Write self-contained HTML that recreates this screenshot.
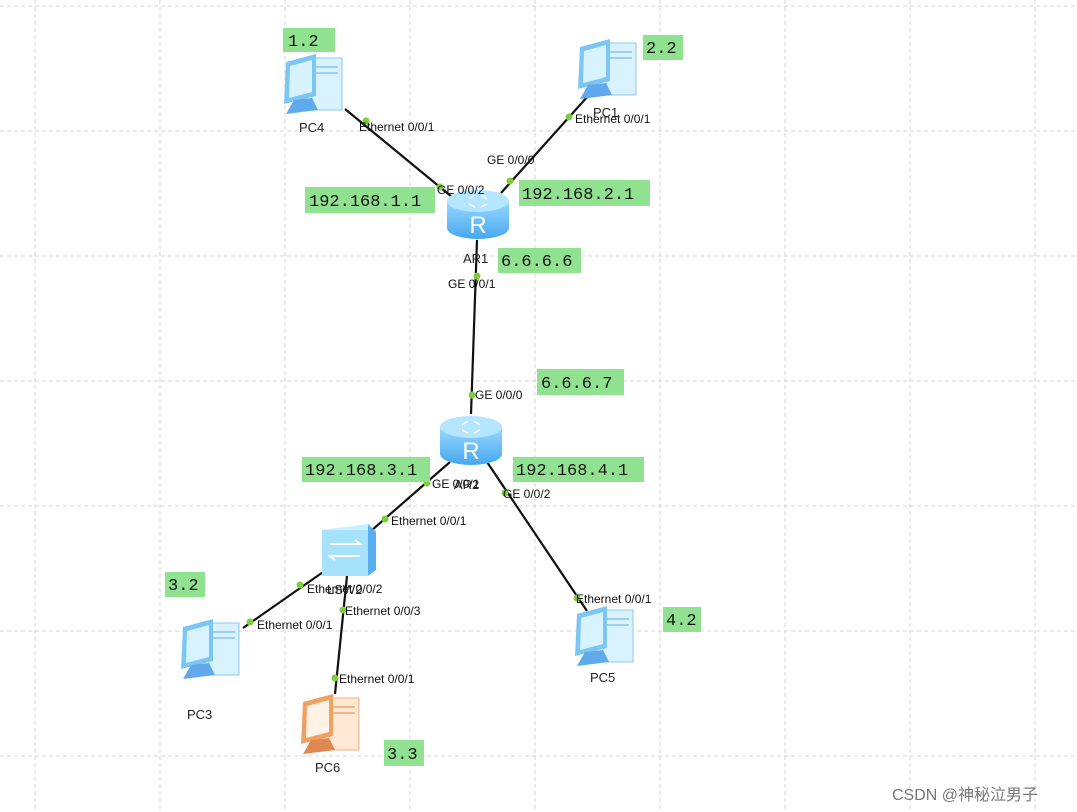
<!DOCTYPE html>
<html><head><meta charset="utf-8"><style>
html,body{margin:0;padding:0;background:#fff;}
svg{display:block;}
.lbl{font-family:"Liberation Sans",Arial,sans-serif;font-size:12px;fill:#111;}
.nm{font-family:"Liberation Sans",Arial,sans-serif;font-size:13px;fill:#222;}
.ip{font-family:"Liberation Mono","DejaVu Sans Mono",monospace;font-size:17px;fill:#111;}
</style></head><body>
<svg width="1077" height="812" viewBox="0 0 1077 812" xmlns="http://www.w3.org/2000/svg">
<defs>
<linearGradient id="rt" x1="0" x2="0" y1="0" y2="1"><stop offset="0" stop-color="#9ad8ff"/><stop offset="1" stop-color="#45a8ee"/></linearGradient>
<g id="pc">
  <rect x="32" y="6" width="30" height="52" fill="#d8f2ff" stroke="#8cc8f0"/>
  <rect x="36" y="14" width="22" height="2" fill="#9ccff0"/>
  <rect x="36" y="20" width="22" height="2" fill="#9ccff0"/>
  <polygon points="6,10 36,2 36,44 4,52" fill="#7cc6f5"/>
  <polygon points="10,14 32,8 32,40 9,46" fill="#d6f3ff"/>
  <polygon points="14,48 32,46 38,58 6,62" fill="#5fa9ec"/>
</g>
<g id="pcorange">
  <rect x="32" y="6" width="30" height="52" fill="#ffe8d4" stroke="#f0b080"/>
  <rect x="36" y="14" width="22" height="2" fill="#f0b888"/>
  <rect x="36" y="20" width="22" height="2" fill="#f0b888"/>
  <polygon points="6,10 36,2 36,44 4,52" fill="#f0a060"/>
  <polygon points="10,14 32,8 32,40 9,46" fill="#fff3e6"/>
  <polygon points="14,48 32,46 38,58 6,62" fill="#e08850"/>
</g>
<g id="rtr">
  <path d="M0,15 L0,42 A31,11 0 0 0 62,42 L62,15 Z" fill="url(#rt)"/>
  <ellipse cx="31" cy="15" rx="31" ry="11" fill="#b5e6ff"/>
  <path d="M22,13 l6,-4 M34,9 l6,4 M22,18 l6,3 M34,21 l6,-3" stroke="#fff" stroke-width="1.5"/>
  <text x="31" y="47" text-anchor="middle" font-family="Liberation Sans,sans-serif" font-size="24" fill="#fff">R</text>
</g>
</defs>
<g stroke="#d4d4d4" stroke-dasharray="4,3" stroke-width="1">
<line x1="35" y1="0" x2="35" y2="812"/><line x1="160" y1="0" x2="160" y2="812"/><line x1="285" y1="0" x2="285" y2="812"/><line x1="410" y1="0" x2="410" y2="812"/><line x1="535" y1="0" x2="535" y2="812"/><line x1="660" y1="0" x2="660" y2="812"/><line x1="785" y1="0" x2="785" y2="812"/><line x1="910" y1="0" x2="910" y2="812"/><line x1="1035" y1="0" x2="1035" y2="812"/>
<line x1="0" y1="6" x2="1077" y2="6"/><line x1="0" y1="131" x2="1077" y2="131"/><line x1="0" y1="256" x2="1077" y2="256"/><line x1="0" y1="381" x2="1077" y2="381"/><line x1="0" y1="506" x2="1077" y2="506"/><line x1="0" y1="631" x2="1077" y2="631"/><line x1="0" y1="756" x2="1077" y2="756"/>
</g>
<g stroke="#111" stroke-width="2.2">
<line x1="345" y1="109" x2="452" y2="197"/>
<line x1="588" y1="96" x2="501" y2="193"/>
<line x1="477" y1="240" x2="471" y2="414"/>
<line x1="450" y1="462" x2="372" y2="530"/>
<line x1="487" y1="462" x2="587" y2="611"/>
<line x1="326" y1="570" x2="243" y2="628"/>
<line x1="347" y1="576" x2="335" y2="694"/>
</g>
<use href="#pc" x="280" y="52"/>
<use href="#pc" x="574" y="37"/>
<use href="#pc" x="177" y="617"/>
<use href="#pc" x="571" y="604"/>
<use href="#pcorange" x="297" y="692"/>
<use href="#rtr" x="447" y="186"/>
<use href="#rtr" x="440" y="412"/>
<g>
  <polygon points="322,530 368,524 376,532 330,538" fill="#c8f0ff"/>
  <rect x="322" y="530" width="46" height="46" fill="#a6e2fb"/>
  <polygon points="368,524 376,532 376,570 368,576" fill="#5ab0ee"/>
  <path d="M330,544 h30 l-5,-4 M360,556 h-30 l5,4" stroke="#fff" stroke-width="2" fill="none"/>
</g>
<g fill="#7ccd3c">
<circle cx="366" cy="121" r="3.5"/><circle cx="569" cy="117" r="3.5"/><circle cx="440" cy="187" r="3.5"/><circle cx="510" cy="181" r="3.5"/><circle cx="477" cy="276" r="3.5"/><circle cx="472" cy="395" r="3.5"/><circle cx="427" cy="483" r="3.5"/><circle cx="385" cy="519" r="3.5"/><circle cx="505" cy="493" r="3.5"/><circle cx="577" cy="598" r="3.5"/><circle cx="300" cy="585" r="3.5"/><circle cx="250" cy="622" r="3.5"/><circle cx="343" cy="610" r="3.5"/><circle cx="335" cy="678" r="3.5"/>
</g>
<g class="lbl">
<text x="359" y="131">Ethernet 0/0/1</text>
<text x="575" y="123">Ethernet 0/0/1</text>
<text x="487" y="164">GE 0/0/0</text>
<text x="437" y="194">GE 0/0/2</text>
<text x="448" y="288">GE 0/0/1</text>
<text x="475" y="399">GE 0/0/0</text>
<text x="432" y="488">GE 0/0/1</text>
<text x="503" y="498">GE 0/0/2</text>
<text x="391" y="525">Ethernet 0/0/1</text>
<text x="576" y="603">Ethernet 0/0/1</text>
<text x="307" y="593">Ethernet 0/0/2</text>
<text x="257" y="629">Ethernet 0/0/1</text>
<text x="345" y="615">Ethernet 0/0/3</text>
<text x="339" y="683">Ethernet 0/0/1</text>
</g>
<g class="nm">
<text x="299" y="132">PC4</text><text x="593" y="117">PC1</text><text x="463" y="263">AR1</text><text x="454" y="489">AR2</text><text x="327" y="594">LSW2</text><text x="187" y="719">PC3</text><text x="315" y="772">PC6</text><text x="590" y="682">PC5</text>
</g>
<g fill="#90e290">
<rect x="283" y="28" width="52" height="24"/><rect x="643" y="35" width="40" height="25"/><rect x="305" y="187" width="130" height="26"/><rect x="519" y="180" width="131" height="26"/><rect x="498" y="248" width="83" height="25"/><rect x="537" y="369" width="87" height="26"/><rect x="302" y="457" width="128" height="25"/><rect x="513" y="457" width="131" height="25"/><rect x="165" y="572" width="40" height="25"/><rect x="663" y="607" width="38" height="25"/><rect x="384" y="740" width="40" height="26"/>
</g>
<g class="ip">
<text x="288" y="46">1.2</text><text x="646" y="53">2.2</text><text x="309" y="206">192.168.1.1</text><text x="522" y="199">192.168.2.1</text><text x="501" y="266">6.6.6.6</text><text x="541" y="388">6.6.6.7</text><text x="305" y="475">192.168.3.1</text><text x="516" y="475">192.168.4.1</text><text x="168" y="590">3.2</text><text x="666" y="625">4.2</text><text x="387" y="759">3.3</text>
</g>
<text x="892" y="800" font-family="Liberation Sans,'Noto Sans CJK SC',sans-serif" font-size="16" fill="#777">CSDN @神秘泣男子</text>
</svg>
</body></html>
